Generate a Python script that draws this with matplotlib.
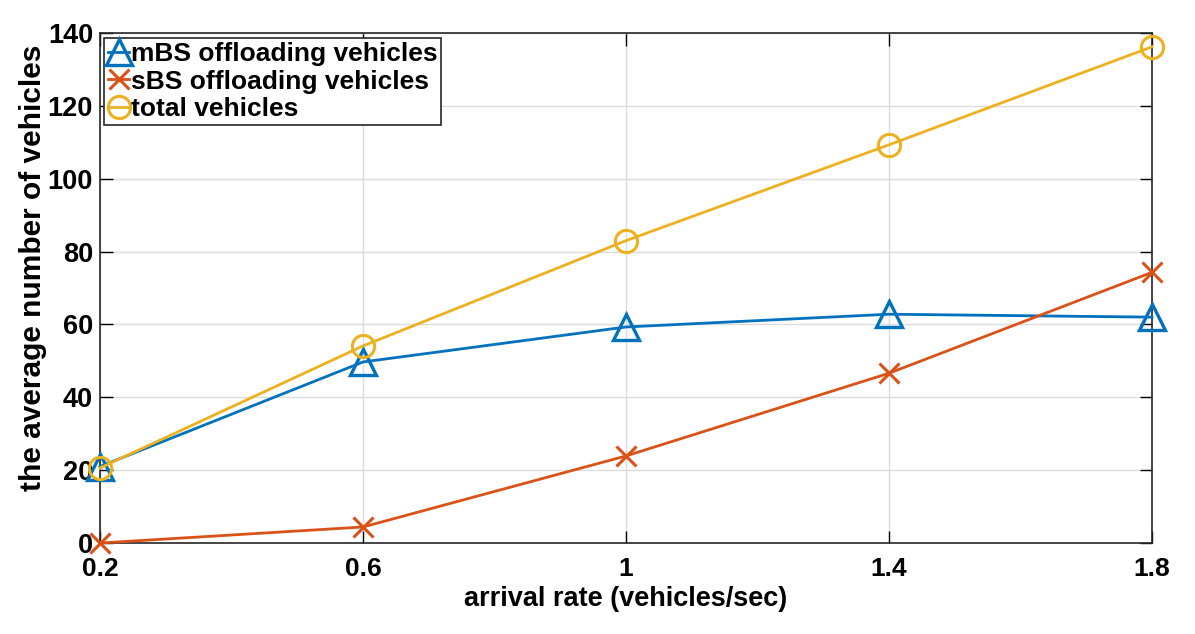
import matplotlib
matplotlib.use("Agg")
import matplotlib.pyplot as plt

x = [0.2, 0.6, 1.0, 1.4, 1.8]
mbs = [21.0, 49.7, 59.3, 62.8, 62.0]
sbs = [0.0, 4.4, 23.9, 46.6, 74.3]
total = [20.6, 54.1, 83.0, 109.3, 136.2]

xticks = [0.2, 0.6, 1.0, 1.4, 1.8]
xticklabels = ["0.2", "0.6", "1", "1.4", "1.8"]
yticks = [0, 20, 40, 60, 80, 100, 120, 140]

c_blue = "#0072BD"
c_red = "#D95319"
c_yel = "#EDB120"

fam = ["Liberation Sans", "DejaVu Sans"]

fig = plt.figure(figsize=(11.95, 6.34), dpi=100)
ax = fig.add_axes([0.0837, 0.1435, 0.8803, 0.8045])

ax.plot(x, mbs, color=c_blue, lw=2.0, marker="^", ms=19, mfc="none", mew=2.4,
        label="mBS offloading vehicles", clip_on=False, zorder=3)
ax.plot(x, sbs, color=c_red, lw=2.0, marker="x", ms=14, mew=2.2,
        label="sBS offloading vehicles", clip_on=False, zorder=3)
ax.plot(x, total, color=c_yel, lw=2.0, marker="o", ms=16, mfc="none", mew=2.2,
        label="total vehicles", clip_on=False, zorder=3)

ax.set_xlim(0.2, 1.8)
ax.set_ylim(0, 140)
ax.set_xticks(xticks)
ax.set_xticklabels(xticklabels)
ax.set_yticks(yticks)
ax.grid(True, color="#dcdcdc", lw=1.0)
ax.set_axisbelow(True)
ax.tick_params(direction="in", length=9, width=1.0, top=True, right=True)
ax.tick_params(axis="y", pad=5)
ax.tick_params(axis="x", pad=10)
for lab in ax.get_yticklabels():
    lab.set_fontsize(19.5)
    lab.set_fontweight("bold")
    lab.set_family(fam)
for lab in ax.get_xticklabels():
    lab.set_fontsize(19)
    lab.set_fontweight("bold")
    lab.set_family(fam)
for s in ax.spines.values():
    s.set_color("#262626")
    s.set_linewidth(1.2)

ax.set_xlabel("arrival rate (vehicles/sec)", fontsize=19.5, fontweight="bold",
              family=fam, labelpad=4)
ax.set_ylabel("the average number of vehicles", fontsize=21.5, fontweight="bold",
              family=fam)
ax.yaxis.set_label_coords(-0.0505, 0.54)

leg = ax.legend(loc="upper left", prop={"family": fam, "weight": "bold", "size": 19},
                handlelength=0.8, handletextpad=0.05, borderpad=0.15, labelspacing=0.14,
                borderaxespad=0.0, bbox_to_anchor=(0.004, 0.99),
                fancybox=False, framealpha=1, edgecolor="#262626")
leg.get_frame().set_linewidth(1.2)

fig.savefig("out.png", dpi=100)
